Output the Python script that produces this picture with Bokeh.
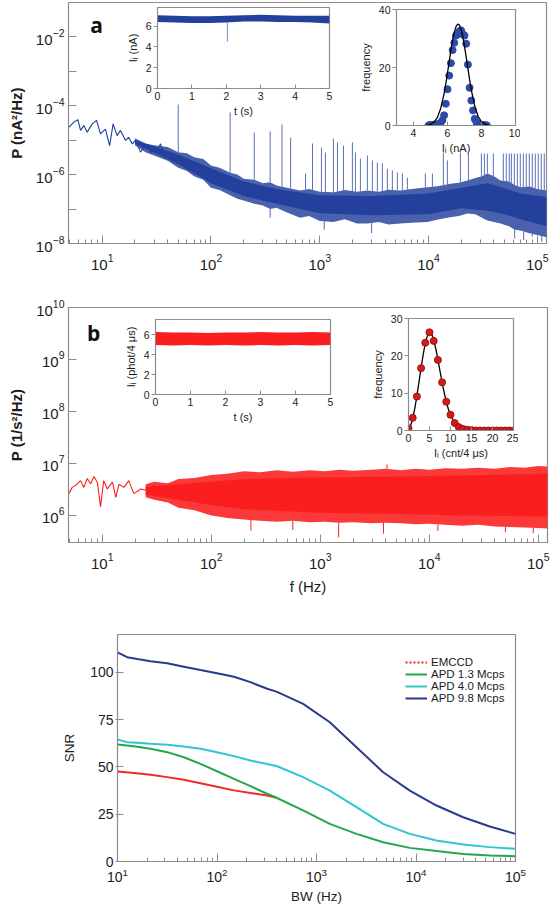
import numpy as np
from bokeh.plotting import figure
from bokeh.models import Range1d, FixedTicker, Label, Legend, LegendItem
from bokeh.layouts import column
from bokeh.embed import file_html
from bokeh.resources import INLINE
try:
    from bokeh.models import Pane
except ImportError:
    Pane = None

# ======================= DATA =======================
# ---- panel a: current noise PSD, log10(P / nA^2/Hz) ----
a_lowf_freq = [4.93, 5.48, 5.97, 6.32, 6.78, 7.28, 8.09, 8.87, 9.64, 10.7, 11.7, 12.6, 13.7, 14.7,
               16.4, 17.5, 18.9, 20.2, 22.5, 25.0, 27.8, 32.0, 34.4, 36.8, 42.5, 47.2, 52.5, 58.3]
a_lowf_logp = [-4.63, -4.48, -4.41, -4.72, -4.58, -4.77, -4.53, -4.43, -4.82, -4.68, -5.16, -4.53, -4.87, -4.72,
               -5.01, -4.92, -5.11, -5.01, -5.35, -5.16, -5.35, -5.30, -5.11, -5.40, -5.35, -5.54, -5.45, -5.64]
# outer (extreme) envelope of the noisy spectrum
a_band_freq = [20, 25, 30, 40, 50, 60, 70, 85, 100, 120, 150, 175, 200, 250, 300, 350, 400, 500, 660, 800,
               1000, 1340, 1700, 2200, 2740, 3500, 4300, 5500, 7000, 9800, 12500, 15800, 19000, 22800,
               27000, 31000, 34800, 40000, 46000, 55000, 62000, 70000, 85000, 100000, 122000]
a_band_hi = [-4.95, -5.1, -5.15, -5.2, -5.35, -5.38, -5.5, -5.55, -5.74, -5.8, -5.95, -6.0, -6.12, -6.15,
             -6.25, -6.22, -6.32, -6.38, -6.46, -6.42, -6.5, -6.51, -6.45, -6.5, -6.46, -6.5, -6.44,
             -6.46, -6.42, -6.37, -6.33, -6.27, -6.24, -6.17, -6.1, -6.05, -5.97, -6.05, -6.17, -6.2,
             -6.3, -6.37, -6.35, -6.42, -6.46]
a_band_lo = [-5.15, -5.35, -5.45, -5.6, -5.8, -5.9, -6.05, -6.15, -6.38, -6.45, -6.6, -6.7, -6.75, -6.85,
             -6.9, -7.0, -6.96, -7.1, -7.25, -7.2, -7.35, -7.38, -7.3, -7.42, -7.42, -7.38, -7.45,
             -7.42, -7.4, -7.38, -7.3, -7.24, -7.2, -7.13, -7.15, -7.25, -7.33, -7.38, -7.42, -7.5,
             -7.6, -7.62, -7.7, -7.75, -7.82]
# dense core of the noisy spectrum
a_core_freq = [20, 50, 100, 200, 400, 1000, 3000, 10000, 20000, 35000, 50000, 70000, 122000]
a_core_hi = [-5.0, -5.42, -5.82, -6.2, -6.42, -6.6, -6.62, -6.55, -6.38, -6.25, -6.4, -6.55, -6.65]
a_core_lo = [-5.1, -5.7, -6.25, -6.62, -6.85, -7.12, -7.18, -7.15, -6.98, -7.05, -7.15, -7.3, -7.5]
a_spike_freq = [50, 150, 250, 350, 450, 540, 740, 858, 1037, 1128, 1336, 1455, 1652, 1997, 2128, 2365,
                2742, 3048, 3388, 3765, 4185, 4652, 5172, 5750, 6395, 9360, 10860, 13700, 14920, 19650,
                23290, 30650, 32650, 34760, 39470, 48750, 51900, 55300, 57800, 61550, 65600, 69850,
                74450, 79300, 84500, 90000, 95900, 102100, 108800, 116000]
a_spike_logtop = [-3.97, -4.20, -4.78, -4.75, -4.55, -4.93, -5.97, -5.10, -5.22, -5.36, -4.96, -5.07,
                  -5.16, -5.07, -5.36, -5.54, -5.45, -5.59, -5.65, -5.68, -5.83, -5.88, -5.94, -5.97,
                  -6.09, -5.97, -5.97, -5.36, -5.59, -5.36, -5.39, -5.39, -5.39, -5.39, -5.39, -5.39,
                  -5.39, -5.39, -5.39, -5.39, -5.39, -5.39, -5.39, -5.39, -5.39, -5.39, -5.39, -5.39,
                  -5.39, -5.39]
a_dip_freq = [350, 1100, 3000, 62000, 75000, 90000, 110000]
a_dip_loglow = [-7.25, -7.6, -7.7, -7.85, -7.9, -7.8, -7.95]
a_y_ticks = [1e-8, 1e-6, 1e-4, 1e-2]
a_y_minor = [1e-7, 1e-5, 1e-3]
f_ticks = [10, 100, 1000, 10000, 100000]

# inset a1: current trace I_i (nA) vs t (s)
a1_t = [0, 0.5, 1, 1.5, 2, 2.5, 3, 3.5, 4, 4.5, 5]
a1_hi = [7.05, 7.0, 6.95, 6.95, 7.0, 7.05, 7.1, 7.05, 7.0, 7.0, 7.0]
a1_lo = [6.4, 6.35, 6.3, 6.3, 6.35, 6.45, 6.45, 6.4, 6.4, 6.35, 6.25]
a1_dip_t = [2.03]
a1_dip_low = [4.5]
# inset a2: histogram of current
a2_current = [4.9, 5.0, 5.1, 5.2, 5.3, 5.4, 5.5, 5.6, 5.7, 5.8, 5.9, 6.0, 6.1, 6.2, 6.3, 6.4, 6.5, 6.6,
              6.7, 6.8, 6.9, 7.0, 7.1, 7.2, 7.3, 7.4, 7.5, 7.6, 7.7, 7.8, 7.9, 8.0, 8.1, 8.2, 8.3]
a2_count = [0.1, 0.2, 0.2, 0.3, 0.3, 0.4, 0.5, 0.9, 1.8, 3.5, 7.5, 12.5, 17.2, 21.5, 26, 28.5, 31, 31.5,
            32.5, 32.8, 31.5, 31, 28.2, 21, 13, 8.6, 5.2, 2.3, 1.1, 0.5, 0.3, 0.2, 0.2, 0.1, 0.1]
a2_fit_current = [4.6, 4.8, 5.0, 5.2, 5.4, 5.6, 5.8, 5.9, 6.0, 6.1, 6.2, 6.3, 6.4, 6.5, 6.6, 6.7, 6.8,
                  6.9, 7.0, 7.1, 7.2, 7.3, 7.4, 7.6, 7.8, 8.0, 8.2, 8.4, 8.6]
a2_fit_count = [0.03, 0.12, 0.39, 1.1, 2.7, 5.9, 11.0, 14.4, 18.1, 22.0, 25.9, 29.4, 32.2, 34.1, 35.0,
                34.6, 33.1, 30.6, 27.3, 23.6, 19.7, 15.8, 12.3, 6.7, 3.2, 1.3, 0.48, 0.15, 0.04]

# ---- panel b: photon-count noise PSD, log10(P / 1/s^2/Hz) ----
b_lowf_freq = [4.93, 5.30, 5.71, 6.32, 6.78, 7.28, 7.81, 8.38, 9.00, 9.64, 10.3, 11.1, 12.4, 13.3, 14.2,
               15.8, 17.5, 19.5, 22.5, 25.9, 29.8, 34.3, 39.6]
b_lowf_logp = [6.42, 6.54, 6.58, 6.67, 6.54, 6.71, 6.61, 6.75, 6.64, 6.17, 6.67, 6.51, 6.64, 6.35, 6.60,
               6.54, 6.67, 6.42, 6.51, 6.48, 6.58, 6.42, 6.51]
b_band_freq = [25, 30, 40, 50, 70, 100, 140, 200, 280, 400, 560, 800, 1100, 1500, 2000, 3000, 4000, 5500,
               7500, 10000, 14000, 20000, 28000, 40000, 55000, 75000, 100000, 122000]
b_band_hi = [6.6, 6.65, 6.62, 6.7, 6.72, 6.78, 6.8, 6.85, 6.83, 6.87, 6.84, 6.87, 6.85, 6.88, 6.86, 6.88,
             6.9, 6.87, 6.9, 6.88, 6.91, 6.9, 6.92, 6.9, 6.93, 6.92, 6.95, 6.94]
b_band_lo = [6.35, 6.3, 6.25, 6.15, 6.1, 6.0, 5.95, 5.92, 5.9, 5.88, 5.9, 5.87, 5.88, 5.86, 5.87, 5.85,
             5.86, 5.85, 5.83, 5.84, 5.82, 5.8, 5.82, 5.79, 5.78, 5.77, 5.76, 5.75]
b_core_freq = [25, 50, 100, 200, 500, 1000, 5000, 20000, 122000]
b_core_hi = [6.55, 6.6, 6.65, 6.7, 6.72, 6.73, 6.75, 6.77, 6.8]
b_core_lo = [6.4, 6.3, 6.2, 6.12, 6.08, 6.05, 6.03, 6.0, 5.98]
b_dip_freq = [231, 560, 1476, 3800, 12000, 50000, 90000]
b_dip_loglow = [5.71, 5.72, 5.58, 5.65, 5.7, 5.68, 5.66]
b_peak_freq = [198, 4100]
b_peak_logtop = [6.85, 6.98]
b_y_ticks = [1e6, 1e7, 1e8, 1e9, 1e10]

# inset b1: photon trace
b1_t = [0, 0.5, 1, 1.5, 2, 2.5, 3, 3.5, 4, 4.5, 5]
b1_hi = [6.25, 6.2, 6.2, 6.15, 6.2, 6.2, 6.25, 6.2, 6.2, 6.25, 6.2]
b1_lo = [4.95, 4.9, 4.95, 4.9, 4.95, 4.9, 4.95, 4.9, 4.95, 4.9, 4.95]
# inset b2: count histogram
b2_counts = list(range(0, 26))
b2_freq = [0.6, 3.4, 9.1, 16.7, 23.5, 26.3, 24.0, 18.9, 12.9, 7.7, 4.2, 2.0, 0.9, 0.4, 0.2, 0.1,
           0, 0, 0, 0, 0, 0, 0, 0, 0, 0]
b2_fit_counts = [0, 0.5, 1, 1.5, 2, 2.5, 3, 3.5, 4, 4.5, 5, 5.5, 6, 6.5, 7, 7.5, 8, 8.5, 9, 9.5, 10,
                 11, 12, 13, 14, 16, 20, 25]
b2_fit_freq = [0.4, 1.3, 3.2, 5.9, 9.3, 13.0, 16.8, 20.4, 23.4, 25.4, 26.3, 25.9, 24.3, 21.9, 19.0,
               15.9, 12.9, 10.1, 7.7, 5.7, 4.1, 2.0, 0.9, 0.4, 0.15, 0.03, 0, 0]

# ---- panel c: SNR vs bandwidth ----
c_bw = [10, 12.5, 15.8, 21.5, 31.6, 46.4, 68.2, 100, 148, 217, 319, 396, 734, 1361, 2523, 4677,
        8670, 16070, 29800, 55200, 100000]
c_snr_apd98 = [110.6, 108, 107, 105.9, 104.8, 103, 101.2, 99.5, 97.7, 94.8, 91.3, 89.8, 83.3, 73.6,
               60.4, 47.2, 37.5, 29.6, 23.4, 18.5, 14.6]
c_snr_apd40 = [64.5, 63.1, 62.8, 62.2, 61.7, 60.8, 59.6, 57.8, 55.7, 53.4, 51.5, 50.5, 44.6, 37.5,
               28.7, 19.9, 14.6, 11.1, 9.0, 7.6, 6.7]
c_bw_apd13 = [10, 14.6, 21.5, 31.6, 46.4, 68.2, 100, 148, 217, 319, 396, 734, 1361, 2523, 4677, 8670,
              16070, 29800, 55200, 100000]
c_snr_apd13 = [61.8, 60.9, 59.6, 57.8, 55.1, 51.6, 47.7, 43.7, 39.8, 35.8, 33.7, 27, 19.9, 14.6, 10.2,
               7.2, 5.5, 4.0, 3.2, 2.8]
c_bw_emccd = [10, 14.6, 21.5, 31.6, 46.4, 68.2, 100, 148, 217, 319, 396]
c_snr_emccd = [47.6, 46.8, 45.8, 44.6, 43.2, 41.4, 39.5, 37.6, 36.2, 34.9, 33.7]
c_labels = ["EMCCD", "APD 1.3 Mcps", "APD 4.0 Mcps", "APD 9.8 Mcps"]
c_y_ticks = [0, 25, 50, 75, 100]

# ======================= STYLE =======================
GREY = "#8c8c8c"
TXT = "#1c1c1c"
FONT = "Liberation Sans"
BLUE = "#22409c"
RED = "#fb1e1e"
C_RED, C_GREEN, C_CYAN, C_BLUE = "#ee2a2a", "#22a84a", "#30c4d2", "#2a3b8f"


def make_fig(left, top, width, height, frame, x_range, y_range, x_type="linear", y_type="linear",
             transparent=False):
    fl, ft, fr, fb = frame
    p = figure(width=width, height=height, x_range=x_range, y_range=y_range,
               x_axis_type=x_type, y_axis_type=y_type, output_backend="svg",
               toolbar_location=None, min_border_left=fl - left, min_border_right=left + width - fr,
               min_border_top=ft - top, min_border_bottom=top + height - fb)
    p.styles = {"position": "absolute", "left": f"{left}px", "top": f"{top}px"}
    p.grid.visible = False
    p.outline_line_color = GREY
    p.outline_line_width = 1.2
    p.background_fill_color = "white"
    if transparent:
        p.border_fill_alpha = 0
    for ax in p.axis:
        ax.axis_line_color = GREY
        ax.major_tick_line_color = GREY
        ax.minor_tick_line_color = GREY
        ax.major_label_text_color = TXT
        ax.axis_label_text_color = TXT
        ax.major_label_text_font = FONT
        ax.axis_label_text_font = FONT
        ax.axis_label_text_font_style = "normal"
    return p


def minors(lo, hi):
    return [m * 10.0 ** k for k in range(-1, 7) for m in range(2, 10) if lo <= m * 10.0 ** k <= hi]


def main_axes(p, yticks, yminor, ylabel, xlabel=None):
    fmin, fmax = p.x_range.start, p.x_range.end
    p.xaxis.ticker = FixedTicker(ticks=f_ticks, minor_ticks=minors(fmin, fmax))
    p.yaxis.ticker = FixedTicker(ticks=yticks, minor_ticks=yminor)
    for ax in p.axis:
        ax.major_tick_in, ax.major_tick_out = 8, 0
        ax.minor_tick_in, ax.minor_tick_out = 4, 0
        ax.major_label_text_font_size = "15px"
    p.yaxis.minor_tick_in = 8
    p.yaxis.major_label_standoff = 4
    p.xaxis.major_label_standoff = 10
    p.yaxis.axis_label = ylabel
    p.yaxis.axis_label_text_font_size = "15px"
    p.yaxis.axis_label_text_font_style = "bold"
    p.yaxis.axis_label_standoff = 8
    if xlabel:
        p.xaxis.axis_label = xlabel
        p.xaxis.axis_label_text_font_size = "15px"
        p.xaxis.axis_label_standoff = 6


def inset_axes(p, xticks, yticks, xlabel, ylabel):
    p.xaxis.ticker = FixedTicker(ticks=xticks)
    p.yaxis.ticker = FixedTicker(ticks=yticks)
    for ax in p.axis:
        ax.major_label_text_font_size = "10.5px"
        ax.axis_label_text_font_size = "11px"
        ax.minor_tick_line_color = None
    p.xaxis.major_tick_in, p.xaxis.major_tick_out = 4, 0
    p.yaxis.major_tick_in, p.yaxis.major_tick_out = 0, 4
    p.xaxis.major_label_standoff = 3
    p.yaxis.major_label_standoff = 2
    p.xaxis.axis_label = xlabel
    p.yaxis.axis_label = ylabel
    p.xaxis.axis_label_standoff = 2
    p.yaxis.axis_label_standoff = 4


def panel_letter(p, x, y, text):
    p.add_layout(Label(x=x, y=y, text=text, text_font="Open Sans", text_font_style="bold",
                       text_font_size="21px", text_color="#111111", text_align="center",
                       text_baseline="middle"))


pw = lambda arr: [10.0 ** v for v in arr]

# ======================= PANEL A =======================
fa = make_fig(0, 0, 552, 282, (68, 2, 546, 243), Range1d(10 ** 0.69, 10 ** 5.085),
              Range1d(1e-8, 10 ** -1.01), "log", "log")
main_axes(fa, a_y_ticks, a_y_minor, "P (nA\u00b2/Hz)")
spike_base = np.interp(np.log10(a_spike_freq), np.log10(a_band_freq), a_band_hi)
fa.segment(x0=a_spike_freq, y0=pw(spike_base), x1=a_spike_freq, y1=pw(a_spike_logtop),
           line_color=BLUE, line_width=1, line_alpha=0.75)
dip_base = np.interp(np.log10(a_dip_freq), np.log10(a_band_freq), a_band_lo)
fa.segment(x0=a_dip_freq, y0=pw(dip_base), x1=a_dip_freq, y1=pw(a_dip_loglow),
           line_color=BLUE, line_width=1, line_alpha=0.8)
fa.varea(x=a_band_freq, y1=pw(a_band_lo), y2=pw(a_band_hi), fill_color=BLUE, fill_alpha=0.82)
fa.varea(x=a_core_freq, y1=pw(a_core_lo), y2=pw(a_core_hi), fill_color=BLUE, fill_alpha=1.0)
fa.line(a_lowf_freq, pw(a_lowf_logp), line_color=BLUE, line_width=1.1)
panel_letter(fa, 8.87, 10 ** -1.652, "a")

# inset a1
a1 = make_fig(120, 0, 214, 120, (157, 7, 329, 88), Range1d(0, 5), Range1d(0, 7.8), transparent=True)
inset_axes(a1, [0, 1, 2, 3, 4, 5], [0, 2, 4, 6], "t (s)", "I\u1d62 (nA)")
a1.varea(x=a1_t, y1=a1_lo, y2=a1_hi, fill_color=BLUE)
a1.segment(x0=a1_dip_t, y0=a1_lo[4:5], x1=a1_dip_t, y1=a1_dip_low, line_color=BLUE, line_alpha=0.6)

# inset a2
a2 = make_fig(355, 0, 165, 160, (396, 9, 515, 125), Range1d(3, 10), Range1d(0, 40), transparent=True)
inset_axes(a2, [4, 6, 8, 10], [0, 20, 40], "I\u1d62 (nA)", "frequency")
a2.scatter(a2_current, a2_count, size=7, fill_color="#2d4aa6", line_color="#2d4aa6")
a2.line(a2_fit_current, a2_fit_count, line_color="black", line_width=1.3)

# ======================= PANEL B =======================
fb = make_fig(0, 285, 552, 330, (68, 307, 547, 542), Range1d(10 ** 0.69, 10 ** 5.085),
              Range1d(10 ** 5.48, 1e10), "log", "log")
main_axes(fb, b_y_ticks, [], "P (1/s\u00b2/Hz)", "f (Hz)")
fb.segment(x0=b_dip_freq, y0=pw(np.interp(np.log10(b_dip_freq), np.log10(b_band_freq), b_band_lo)),
           x1=b_dip_freq, y1=pw(b_dip_loglow), line_color=RED, line_width=1)
fb.segment(x0=b_peak_freq, y0=pw(np.interp(np.log10(b_peak_freq), np.log10(b_band_freq), b_band_hi)),
           x1=b_peak_freq, y1=pw(b_peak_logtop), line_color=RED, line_width=1)
fb.varea(x=b_band_freq, y1=pw(b_band_lo), y2=pw(b_band_hi), fill_color=RED, fill_alpha=0.88)
fb.varea(x=b_core_freq, y1=pw(b_core_lo), y2=pw(b_core_hi), fill_color=RED, fill_alpha=1.0)
fb.line(b_lowf_freq, pw(b_lowf_logp), line_color=RED, line_width=1.1)
panel_letter(fb, 8.32, 10 ** 9.5, "b")

# inset b1
b1 = make_fig(110, 305, 225, 120, (155, 319, 330, 394), Range1d(0, 5), Range1d(0, 7.5), transparent=True)
inset_axes(b1, [0, 1, 2, 3, 4, 5], [0, 2, 4, 6], "t (s)", "I\u1d62 (phot/4 \u03bcs)")
b1.varea(x=b1_t, y1=b1_lo, y2=b1_hi, fill_color=RED)

# inset b2
b2 = make_fig(365, 305, 153, 160, (408, 318, 513, 430), Range1d(0, 25), Range1d(0, 30), transparent=True)
inset_axes(b2, [0, 5, 10, 15, 20, 25], [0, 10, 20, 30], "I\u1d62 (cnt/4 \u03bcs)", "frequency")
b2.line(b2_fit_counts, b2_fit_freq, line_color="black", line_width=1.3)
b2.scatter(b2_counts, b2_freq, size=7, fill_color="#d01c1c", line_color="#a01010")

# ======================= PANEL C =======================
fc = make_fig(0, 618, 552, 288, (117, 634, 515, 861), Range1d(10, 1e5), Range1d(0, 120), "log", "linear")
fc.xaxis.ticker = FixedTicker(ticks=f_ticks, minor_ticks=minors(10, 1e5))
fc.yaxis.ticker = FixedTicker(ticks=c_y_ticks)
for ax in fc.axis:
    ax.major_label_text_font_size = "14px"
    ax.axis_label_text_font_size = "13.5px"
fc.xaxis.major_tick_in, fc.xaxis.major_tick_out = 8, 0
fc.xaxis.minor_tick_in, fc.xaxis.minor_tick_out = 4, 0
fc.yaxis.major_tick_in, fc.yaxis.major_tick_out = 6, 2
fc.yaxis.minor_tick_line_color = None
fc.xaxis.major_label_standoff = 6
fc.yaxis.major_label_standoff = 2
fc.xaxis.axis_label = "BW (Hz)"
fc.yaxis.axis_label = "SNR"
fc.xaxis.axis_label_standoff = 4
fc.yaxis.axis_label_standoff = 10

fc.line(c_bw_emccd, c_snr_emccd, line_color=C_RED, line_width=2)
# legend key for EMCCD is dotted; its renderer holds a single point so it draws nothing in the plot
r_emccd = fc.line(c_bw_emccd[:1], c_snr_emccd[:1], line_color=C_RED, line_width=2, line_dash="2 2")
r_13 = fc.line(c_bw_apd13, c_snr_apd13, line_color=C_GREEN, line_width=2)
r_40 = fc.line(c_bw, c_snr_apd40, line_color=C_CYAN, line_width=2)
r_98 = fc.line(c_bw, c_snr_apd98, line_color=C_BLUE, line_width=2)
legend = Legend(items=[LegendItem(label=c_labels[0], renderers=[r_emccd]),
                       LegendItem(label=c_labels[1], renderers=[r_13]),
                       LegendItem(label=c_labels[2], renderers=[r_40]),
                       LegendItem(label=c_labels[3], renderers=[r_98])],
                location=(286, 155), margin=0, padding=2, spacing=0,
                label_text_font=FONT, label_text_font_size="11.5px", label_text_color=TXT,
                label_height=12, glyph_height=12, glyph_width=22, label_standoff=4,
                border_line_alpha=0, background_fill_alpha=0)
fc.add_layout(legend)
panel_letter(fc, 4.25, 116.3, "c")

figs = [fa, fb, fc, a1, a2, b1, b2]
if Pane is not None:
    root = Pane(elements=figs, styles={"width": "544px", "height": "890px"})
else:
    root = column(*[column(f_) for f_ in figs], width=544, height=890)
open("out.html", "w").write(file_html(root, INLINE))
